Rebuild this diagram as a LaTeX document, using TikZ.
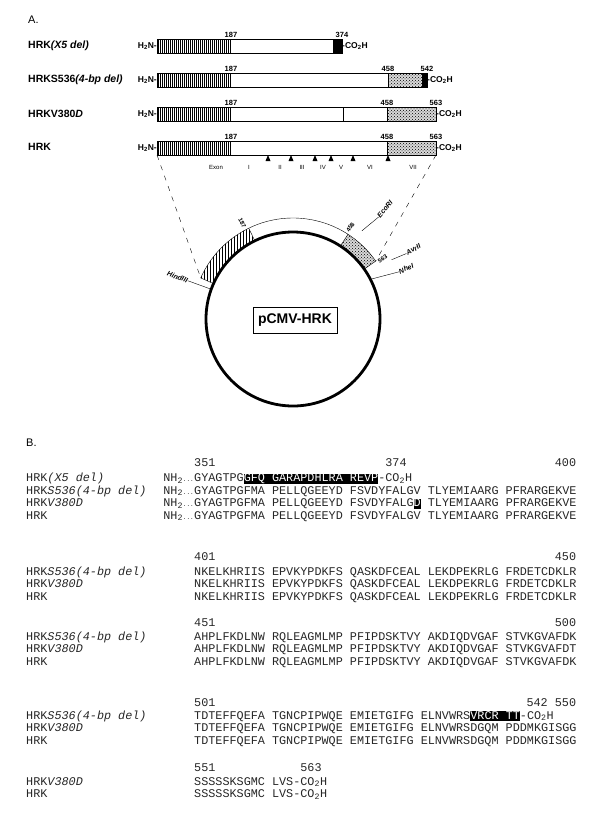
\documentclass[tikz,border=0pt]{standalone}
\usepackage{fontspec}
\setsansfont{Liberation Sans}
\setmonofont{Liberation Mono}
\usetikzlibrary{patterns}
\tikzset{>=latex}
\tikzset{
	lbl/.style={anchor=west, inner sep=0pt, font=\sffamily\bfseries\fontsize{10.5}{12}\selectfont},
	num/.style={anchor=south, inner sep=1pt, font=\sffamily\bfseries\fontsize{7.5}{8}\selectfont},
	term/.style={inner sep=0pt, font=\sffamily\bfseries\fontsize{8.5}{9}\selectfont},
	exon/.style={inner sep=0pt, font=\sffamily\fontsize{6}{7}\selectfont},
	site/.style={inner sep=0pt, font=\sffamily\bfseries\itshape\fontsize{7}{8}\selectfont},
	posn/.style={inner sep=0pt, font=\sffamily\bfseries\fontsize{6}{7}\selectfont},
	seq/.style={anchor=base west, inner sep=0pt, text=black!85, font=\ttfamily\fontsize{11.8}{12}\selectfont},
	stip/.style={fill=gray!30, postaction={pattern=crosshatch dots}},
}
% black highlight in the alignment
\newcommand{\hl}[1]{{\setlength{\fboxsep}{0pt}\colorbox{black}{\textcolor{white}{\rule[-2pt]{0pt}{10pt}#1}}}}
% protein bar: #1 top edge, #2 C end, #3 row name
\newcommand{\hrkbar}[3]{
	\foreach \x in {158, 160, ..., 229}\draw[line width=.6pt](\x, -#1)--(\x, -#1-14);
	\draw[line width=.8pt](157, -#1)rectangle(#2, -#1-14);
	\draw(230, -#1)--(230, -#1-14);
	\node[term, anchor=east](#3N) at (157, -#1-7){H\textsubscript{2}N-};
	\node[term, anchor=west](#3C) at (#2, -#1-7){-CO\textsubscript{2}H};
	\node[num](#3a) at (231, -#1){187};
}

\begin{document}
\begin{tikzpicture}[x=1pt, y=1pt]
	\useasboundingbox(0, 0)rectangle(600, -823);
	\node[lbl, font=\sffamily\fontsize{11}{12}\selectfont](labA) at (28, -20){A.};
	% bars
	\fill(333, -39)rectangle(342, -53);
	\hrkbar{39}{342}{x5}
	\node[num](x5b) at (342, -39){374};
	\fill[stip](388, -73)rectangle(422, -87);
	\fill(422, -73)rectangle(427, -87);
	\draw(388, -73)--(388, -87);
	\hrkbar{73}{427}{sd}
	\node[num](sdb) at (388, -73){458};
	\node[num](sdc) at (427, -73){542};
	\fill[stip](387, -107)rectangle(436, -121);
	\draw(387, -107)--(387, -121);
	\hrkbar{107}{436}{vd}
	\draw[line width=1pt](343, -107)--(343, -121);
	\node[num](vdb) at (387, -107){458};
	\node[num](vdc) at (436, -107){563};
	\fill[stip](387, -141)rectangle(436, -155);
	\draw(387, -141)--(387, -155);
	\hrkbar{141}{436}{hk}
	\node[num](hkb) at (387, -141){458};
	\node[num](hkc) at (436, -141){563};
	\node[lbl](lx5) at (28, -46){HRK\textit{(X5 del)}};
	\node[lbl](lsd) at (28, -80){HRKS536\textit{(4-bp del)}};
	\node[lbl](lvd) at (28, -114){HRKV380\textit{D}};
	\node[lbl](lhk) at (28, -147){HRK};
	% exon boundaries
	\foreach \x in {268, 291, 315, 331, 353, 388}\fill(\x, -155)--(\x-2.5, -161)--(\x+2.5, -161)--cycle;
	\foreach \t/\x in {Exon/216, I/249, II/280, III/302, IV/323, V/341, VI/370, VII/413}
		\node[exon](ex\t) at (\x, -167){\t};
	\coordinate(barL) at (157, -155);
	\coordinate(barR) at (436, -155);
	% plasmid
	\begin{scope}[shift={(293, -319)}]
		\fill[stip](35:87)arc[start angle=35, end angle=57, radius=87]--(57:101)arc[start angle=57, end angle=35, radius=101]--cycle;
		\fill[pattern=vertical lines](116:87)arc[start angle=116, end angle=156, radius=87]--(156:101)arc[start angle=156, end angle=116, radius=101]--cycle;
		\draw(35:101)arc[start angle=35, end angle=156, radius=101];
		\foreach \a in {35, 57, 116, 156}\draw(\a:87)--(\a:101);
		\draw[line width=2.8pt](0, 0)circle[radius=87];
		\node[draw, line width=.6pt, inner xsep=5pt, minimum height=26pt, font=\sffamily\bfseries\fontsize{14}{16}\selectfont](pcmv) at (2, -1){pCMV-HRK};
		\coordinate(insL) at (156:101);
		\coordinate(insR) at (35:101);
		\node[posn, anchor=east, rotate=-63](p187) at (118:103){187};
		\node[posn, anchor=west, rotate=57](p458) at (58:103){458};
		\node[posn, anchor=west, rotate=34](p563) at (34:103){563};
		\coordinate(hind) at (160:112);
		\draw(160:88)--(hind);
		\node[site, anchor=east, rotate=-20](hindt) at (hind){HindIII};
		\coordinate(eco) at (50:133);
		\draw(52:112)--(eco);
		\node[site, anchor=west, rotate=50](ecot) at (eco){EcoRI};
		\coordinate(avr) at (30:131);
		\draw(31:115)--(avr);
		\node[site, anchor=west, rotate=30](avrt) at (avr){AvrII};
		\coordinate(nhe) at (24:116);
		\draw(27:88)--(nhe);
		\node[site, anchor=west, rotate=24](nhet) at (nhe){NheI};
	\end{scope}
	\draw[dash pattern=on 5pt off 6pt](barL)--(insL);
	\draw[dash pattern=on 5pt off 6pt](barR)--(insR);
	% alignment
	\node[lbl, font=\sffamily\fontsize{11}{12}\selectfont](labB) at (26, -443){B.};
	\node[seq](n351) at (194, -466.5){351};
	\node[seq](n374) at (385.2, -466.5){374};
	\node[seq, anchor=base east](n400) at (576.3, -466.5){400};
	\node[seq](l1a) at (26, -481.5){HRK\textit{(X5 del)}};
	\node[seq](l1b) at (26, -494){HRK\textit{S536(4-bp del)}};
	\node[seq](l1c) at (26, -506.5){HRK\textit{V380D}};
	\node[seq](l1d) at (26, -519){HRK};
	\foreach \y/\r in {481.5/a, 494/b, 506.5/c, 519/d}
		\node[seq, anchor=base east](nh\r) at (194, -\y){NH\textsubscript{2}{\fontsize{6}{6}\selectfont...}};
	\node[seq](s1a) at (194, -481.5){GYAGTPG\hl{GFQ GARAPDHLRA REVP}-CO\textsubscript{2}H};
	\node[seq](s1b) at (194, -494){GYAGTPGFMA PELLQGEEYD FSVDYFALGV TLYEMIAARG PFRARGEKVE};
	\node[seq](s1c) at (194, -506.5){GYAGTPGFMA PELLQGEEYD FSVDYFALG\hl{D} TLYEMIAARG PFRARGEKVE};
	\node[seq](s1d) at (194, -519){GYAGTPGFMA PELLQGEEYD FSVDYFALGV TLYEMIAARG PFRARGEKVE};
	\node[seq](n401) at (194, -560){401};
	\node[seq, anchor=base east](n450) at (576.3, -560){450};
	\node[seq](l2b) at (26, -575){HRK\textit{S536(4-bp del)}};
	\node[seq](l2c) at (26, -587.5){HRK\textit{V380D}};
	\node[seq](l2d) at (26, -600){HRK};
	\node[seq](s2b) at (194, -575){NKELKHRIIS EPVKYPDKFS QASKDFCEAL LEKDPEKRLG FRDETCDKLR};
	\node[seq](s2c) at (194, -587.5){NKELKHRIIS EPVKYPDKFS QASKDFCEAL LEKDPEKRLG FRDETCDKLR};
	\node[seq](s2d) at (194, -600){NKELKHRIIS EPVKYPDKFS QASKDFCEAL LEKDPEKRLG FRDETCDKLR};
	\node[seq](n451) at (194, -626){451};
	\node[seq, anchor=base east](n500) at (576.3, -626){500};
	\node[seq](l3b) at (26, -640){HRK\textit{S536(4-bp del)}};
	\node[seq](l3c) at (26, -652.5){HRK\textit{V380D}};
	\node[seq](l3d) at (26, -665){HRK};
	\node[seq](s3b) at (194, -640){AHPLFKDLNW RQLEAGMLMP PFIPDSKTVY AKDIQDVGAF STVKGVAFDK};
	\node[seq](s3c) at (194, -652.5){AHPLFKDLNW RQLEAGMLMP PFIPDSKTVY AKDIQDVGAF STVKGVAFDT};
	\node[seq](s3d) at (194, -665){AHPLFKDLNW RQLEAGMLMP PFIPDSKTVY AKDIQDVGAF STVKGVAFDK};
	\node[seq](n501) at (194, -706){501};
	\node[seq, anchor=base east](n550) at (576.3, -706){542 550};
	\node[seq](l4b) at (26, -719){HRK\textit{S536(4-bp del)}};
	\node[seq](l4c) at (26, -731.5){HRK\textit{V380D}};
	\node[seq](l4d) at (26, -744){HRK};
	\node[seq](s4b) at (194, -719){TDTEFFQEFA TGNCPIPWQE EMIETGIFG ELNVWRS\hl{VRCR TT}-CO\textsubscript{2}H};
	\node[seq](s4c) at (194, -731.5){TDTEFFQEFA TGNCPIPWQE EMIETGIFG ELNVWRSDGQM PDDMKGISGG};
	\node[seq](s4d) at (194, -744){TDTEFFQEFA TGNCPIPWQE EMIETGIFG ELNVWRSDGQM PDDMKGISGG};
	\node[seq](n551) at (194, -771.5){551};
	\node[seq](n563) at (300.2, -771.5){563};
	\node[seq](l5c) at (26, -785){HRK\textit{V380D}};
	\node[seq](l5d) at (26, -797.5){HRK};
	\node[seq](s5c) at (194, -785){SSSSSKSGMC LVS-CO\textsubscript{2}H};
	\node[seq](s5d) at (194, -797.5){SSSSSKSGMC LVS-CO\textsubscript{2}H};
\end{tikzpicture}
\end{document}
